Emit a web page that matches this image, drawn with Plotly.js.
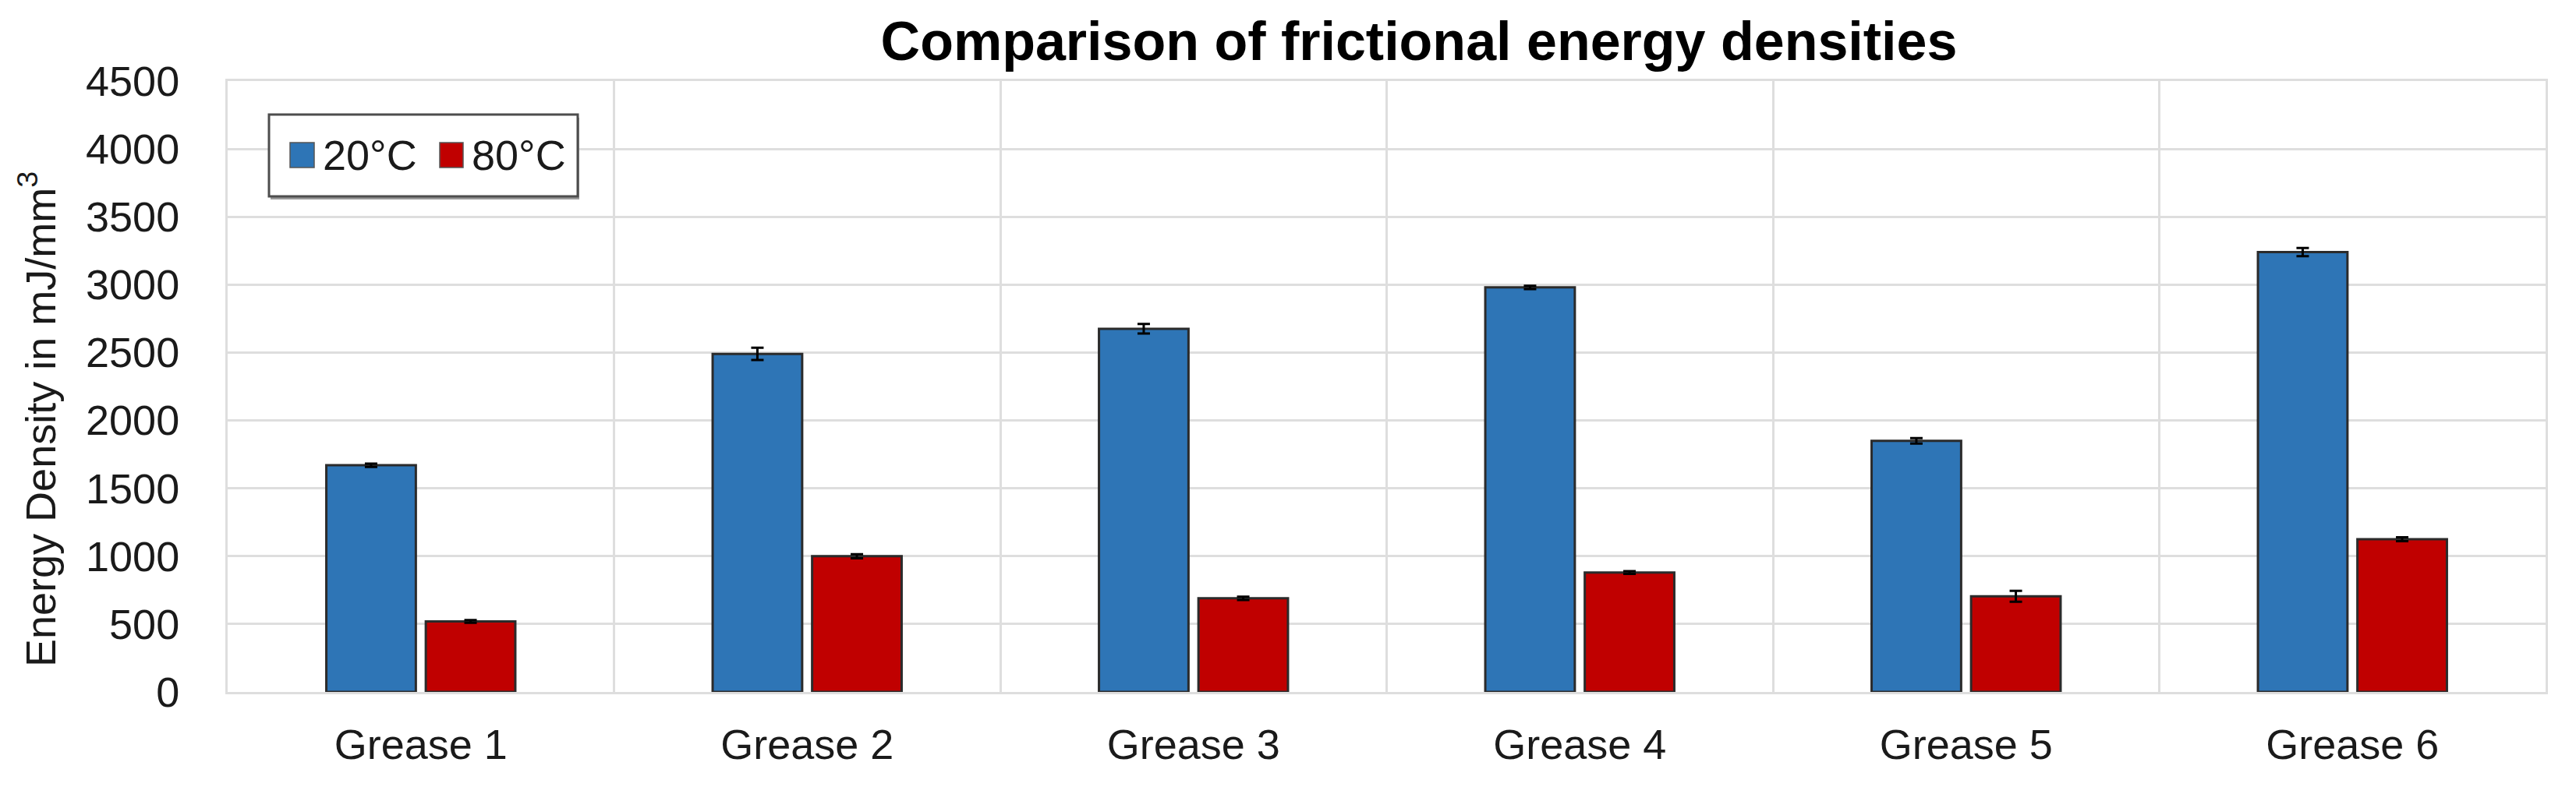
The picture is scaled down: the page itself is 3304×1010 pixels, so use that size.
<!DOCTYPE html>
<html>
<head>
<meta charset="utf-8">
<script src="https://cdn.plot.ly/plotly-3.0.1.min.js"></script>
<style>html,body{margin:0;padding:0;background:#fff;}#chart{width:3304px;height:1010px;}</style>
</head>
<body>
<div id="chart"></div>
<script>
const categories = ["Grease 1", "Grease 2", "Grease 3", "Grease 4", "Grease 5", "Grease 6"];
const seriesNames = ["20°C", "80°C"];
const values20 = [1670, 2490, 2675, 2980, 1850, 3240];
const values80 = [520, 1000, 690, 880, 705, 1125];
const err20 = [12, 45, 35, 12, 20, 30];
const err80 = [10, 15, 12, 10, 40, 15];
const yTicks = [0, 500, 1000, 1500, 2000, 2500, 3000, 3500, 4000, 4500];
const colors = ["#2E75B6", "#C00000"];

const FONT = "Liberation Sans, Arial, sans-serif";
const GRID = "#dedede";

function barTrace(name, vals, errs, color) {
  return {
    type: "bar",
    name: name,
    x: categories,
    y: vals,
    marker: {color: color, line: {color: "#2b2b2b", width: 3}},
    error_y: {type: "data", array: errs, visible: true, color: "#000", thickness: 3, width: 8},
    showlegend: false
  };
}

const data = [
  barTrace(seriesNames[0], values20, err20, colors[0]),
  barTrace(seriesNames[1], values80, err80, colors[1])
];

// plot area in px: x 292..3265, y 104..888
const L = 292, R = 3265, T = 104, B = 888;
const px = v => (v - L) / (R - L);
const py = v => (B - v) / (B - T);

const shapes = [
  {type: "rect", xref: "paper", yref: "paper", x0: px(347), x1: px(743), y0: py(256), y1: py(151),
   line: {width: 0}, fillcolor: "#9a9a9a", layer: "above"},
  {type: "rect", xref: "paper", yref: "paper", x0: px(345), x1: px(741), y0: py(252), y1: py(147),
   line: {color: "#4d4d4d", width: 3}, fillcolor: "#ffffff", layer: "above"},
  {type: "rect", xref: "paper", yref: "paper", x0: px(372), x1: px(403), y0: py(215), y1: py(183),
   line: {color: "#555", width: 1.5}, fillcolor: colors[0], layer: "above"},
  {type: "rect", xref: "paper", yref: "paper", x0: px(564), x1: px(594), y0: py(215), y1: py(183),
   line: {color: "#555", width: 1.5}, fillcolor: colors[1], layer: "above"}
];

const annotations = [
  {xref: "paper", yref: "paper", x: px(412), y: py(199), xanchor: "left", yanchor: "middle",
   text: seriesNames[0], showarrow: false, font: {family: FONT, size: 54, color: "#1a1a1a"}},
  {xref: "paper", yref: "paper", x: px(603), y: py(199), xanchor: "left", yanchor: "middle",
   text: seriesNames[1], showarrow: false, font: {family: FONT, size: 54, color: "#1a1a1a"}},
  {xref: "paper", yref: "paper", x: px(48), y: py(538), xanchor: "center", yanchor: "middle",
   textangle: -90, text: "Energy Density in mJ/mm<sup>3</sup>", showarrow: false,
   font: {family: FONT, size: 54, color: "#1a1a1a"}}
];

const layout = {
  width: 3304, height: 1010,
  margin: {l: L, r: 3304 - R, t: T, b: 1010 - B, pad: 0},
  paper_bgcolor: "#fff", plot_bgcolor: "#fff",
  barmode: "group", bargap: 0.485, bargroupgap: 0.1,
  title: {text: "<b>Comparison of frictional energy densities</b>",
          font: {family: FONT, size: 70, color: "#000"},
          x: 1820 / 3304, xref: "container", xanchor: "center",
          y: 1 - 52 / 1010, yref: "container", yanchor: "middle"},
  xaxis: {type: "category", tickson: "boundaries", ticks: "", showgrid: true, gridcolor: GRID, gridwidth: 3,
          showline: true, mirror: true, linecolor: GRID, linewidth: 3, zeroline: false,
          tickfont: {family: FONT, size: 54, color: "#1a1a1a"}, ticklabelstandoff: 18},
  yaxis: {range: [0, 4500], tickvals: yTicks, ticktext: yTicks.map(String), ticks: "",
          showgrid: true, gridcolor: GRID, gridwidth: 3, zeroline: false,
          showline: true, mirror: true, linecolor: GRID, linewidth: 3,
          tickfont: {family: FONT, size: 54, color: "#1a1a1a"}, ticklabelstandoff: 48},
  shapes: shapes,
  annotations: annotations,
  showlegend: false
};

Plotly.newPlot("chart", data, layout, {displayModeBar: false, staticPlot: true});
</script>
</body>
</html>
